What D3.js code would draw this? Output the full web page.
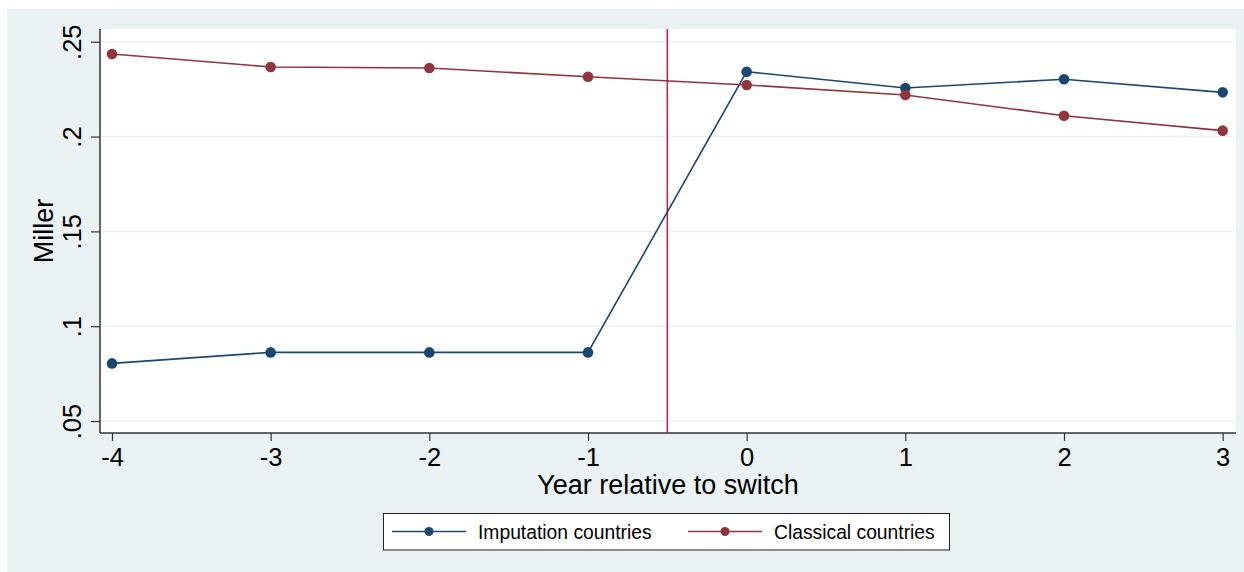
<!DOCTYPE html>
<html>
<head>
<meta charset="utf-8">
<script src="https://cdn.jsdelivr.net/npm/d3@7"></script>
<style>
  body { margin: 0; background: #fff; }
  text { font-family: Arial, "Liberation Sans", sans-serif; fill: #000; }
</style>
</head>
<body>
<div id="chart"></div>
<script>
// data
var years = [-4, -3, -2, -1, 0, 1, 2, 3];
var imputation = [0.0804, 0.0862, 0.0862, 0.0862, 0.2342, 0.2256, 0.2302, 0.2233];
var classical = [0.2435, 0.2367, 0.2361, 0.2315, 0.2272, 0.2219, 0.2110, 0.2031];
var yTicks = [0.05, 0.1, 0.15, 0.2, 0.25];
var yTickLabels = [".05", ".1", ".15", ".2", ".25"];
var seriesNames = ["Imputation countries", "Classical countries"];
var switchAt = -0.5;

var W = 1244, H = 572;
var margin = {top: 29, right: 8, bottom: 139, left: 100};
var width = W - margin.left - margin.right,
    height = H - margin.top - margin.bottom;

var svg = d3.select("#chart").append("svg")
    .attr("width", W).attr("height", H);

// stata-ish outer background
svg.append("rect").attr("x", 7).attr("y", 9)
    .attr("width", W - 7).attr("height", H - 9)
    .attr("fill", "#eaf2f3");

var g = svg.append("g")
    .attr("transform", "translate(" + margin.left + "," + margin.top + ")");

g.append("rect").attr("width", width).attr("height", height).attr("fill", "#fff");

var x = d3.scaleLinear().domain([-4.0756, 3.084]).range([0, width]);
var y = d3.scaleLinear().domain([0.0437, 0.2567]).range([height, 0]);

// gridlines
g.selectAll(".grid").data(yTicks).enter().append("line")
    .attr("x1", 0).attr("x2", width)
    .attr("y1", d => y(d)).attr("y2", d => y(d))
    .attr("stroke", "#eaf2f3").attr("stroke-width", 1.5);

// axes
var yAxis = g.append("g")
    .call(d3.axisLeft(y).tickValues(yTicks).tickSize(9).tickPadding(10)
        .tickFormat((d, i) => yTickLabels[i]));
yAxis.select(".domain").attr("stroke", "#333").attr("stroke-width", 1.5)
    .attr("d", "M0,0V" + height);
yAxis.selectAll(".tick line").attr("stroke", "#333").attr("stroke-width", 1.2);
yAxis.selectAll(".tick text")
    .attr("font-size", 25.5).attr("fill", "#000")
    .attr("transform", "rotate(-90)")
    .attr("x", 0).attr("y", -19)
    .attr("text-anchor", "middle").attr("dy", 0);

var xAxis = g.append("g").attr("transform", "translate(0," + height + ")")
    .call(d3.axisBottom(x).tickValues(years).tickSize(8).tickPadding(6)
        .tickFormat(d => String(d)));
xAxis.select(".domain").attr("stroke", "#333").attr("stroke-width", 1.5)
    .attr("d", "M0,0H" + width);
xAxis.selectAll(".tick line").attr("stroke", "#333").attr("stroke-width", 1.2);
xAxis.selectAll(".tick text").attr("font-size", 25.5).attr("fill", "#000")
    .attr("dy", 0).attr("y", 32.5);

// axis titles
svg.append("text").attr("x", margin.left + width / 2).attr("y", 494)
    .attr("text-anchor", "middle").attr("font-size", 27)
    .text("Year relative to switch");
svg.append("text")
    .attr("transform", "translate(53," + (margin.top + height / 2) + ") rotate(-90)")
    .attr("text-anchor", "middle").attr("font-size", 27)
    .text("Miller");

// switch line
g.append("line")
    .attr("x1", x(switchAt)).attr("x2", x(switchAt))
    .attr("y1", 0).attr("y2", height)
    .attr("stroke", "#c41e3a").attr("stroke-width", 1.5);

var series = [
    {name: seriesNames[0], values: imputation, color: "#1a476f"},
    {name: seriesNames[1], values: classical, color: "#90353b"}
];

var line = d3.line().x((d, i) => x(years[i])).y(d => y(d));

series.forEach(function(s) {
    g.append("path").datum(s.values)
        .attr("d", line).attr("fill", "none")
        .attr("stroke", s.color).attr("stroke-width", 1.6);
    g.selectAll(null).data(s.values).enter().append("circle")
        .attr("cx", (d, i) => x(years[i])).attr("cy", d => y(d))
        .attr("r", 5.3).attr("fill", s.color);
});

// legend
var leg = svg.append("g");
leg.append("rect").attr("x", 383.5).attr("y", 513.5)
    .attr("width", 566).attr("height", 36.5)
    .attr("fill", "#fff").attr("stroke", "#222").attr("stroke-width", 1);
var legItems = [{x0: 392, x1: 466, tx: 478}, {x0: 688, x1: 762, tx: 774}];
series.forEach(function(s, i) {
    var it = legItems[i];
    leg.append("line").attr("x1", it.x0).attr("x2", it.x1)
        .attr("y1", 531.5).attr("y2", 531.5)
        .attr("stroke", s.color).attr("stroke-width", 1.6);
    leg.append("circle").attr("cx", (it.x0 + it.x1) / 2).attr("cy", 531.5)
        .attr("r", 4.5).attr("fill", s.color);
    leg.append("text").attr("x", it.tx).attr("y", 538.5)
        .attr("font-size", 19.3).text(s.name);
});
</script>
</body>
</html>
